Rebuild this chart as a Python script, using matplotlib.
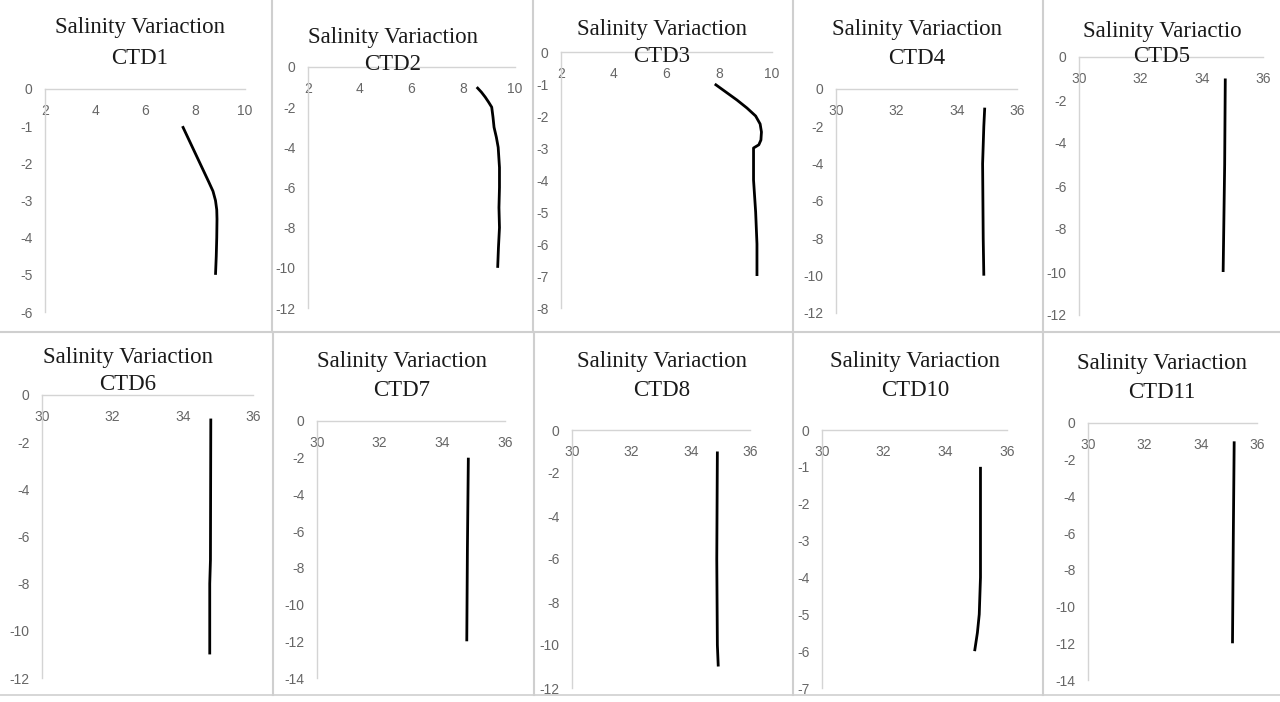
import matplotlib
matplotlib.use("Agg")
import matplotlib.pyplot as plt
from matplotlib.lines import Line2D
import numpy as np

plt.rcParams["axes.unicode_minus"] = False

W, H = 1280, 702

# salinity profiles (depth in m, negative down)
depth_ctd1 = [-1, -1.5, -2, -2.5, -2.75, -3, -3.25, -3.5, -4, -4.5, -5]
sal_ctd1 = [7.5, 7.85, 8.2, 8.55, 8.72, 8.82, 8.87, 8.88, 8.87, 8.85, 8.82]

depth_ctd2 = [-1, -1.25, -1.5, -1.75, -2, -2.5, -3, -3.5, -4, -5, -6, -7, -8, -9, -10]
sal_ctd2 = [8.52, 8.7, 8.85, 8.98, 9.1, 9.15, 9.19, 9.28, 9.35, 9.4, 9.4, 9.38, 9.4, 9.36, 9.33]

depth_ctd3 = [-1, -1.25, -1.5, -1.75, -2, -2.25, -2.5, -2.75, -2.9, -3, -4, -5, -6, -7]
sal_ctd3 = [7.83, 8.25, 8.67, 9.05, 9.38, 9.55, 9.6, 9.58, 9.5, 9.3, 9.3, 9.38, 9.43, 9.43]

depth_ctd4 = [-1, -2, -4, -6, -8, -10]
sal_ctd4 = [34.93, 34.9, 34.86, 34.87, 34.88, 34.9]

depth_ctd5 = [-1, -5, -10]
sal_ctd5 = [34.77, 34.75, 34.7]

depth_ctd6 = [-1, -7, -8, -11]
sal_ctd6 = [34.8, 34.79, 34.77, 34.77]

depth_ctd7 = [-2, -7, -12]
sal_ctd7 = [34.83, 34.8, 34.78]

depth_ctd8 = [-1, -6, -10, -11]
sal_ctd8 = [34.9, 34.88, 34.9, 34.93]

depth_ctd10 = [-1, -4, -5, -5.5, -6]
sal_ctd10 = [35.14, 35.14, 35.1, 35.04, 34.95]

depth_ctd11 = [-1, -6, -12]
sal_ctd11 = [35.19, 35.16, 35.13]

titles = ["CTD1", "CTD2", "CTD3", "CTD4", "CTD5",
          "CTD6", "CTD7", "CTD8", "CTD10", "CTD11"]
profiles = [(depth_ctd1, sal_ctd1), (depth_ctd2, sal_ctd2), (depth_ctd3, sal_ctd3),
            (depth_ctd4, sal_ctd4), (depth_ctd5, sal_ctd5), (depth_ctd6, sal_ctd6),
            (depth_ctd7, sal_ctd7), (depth_ctd8, sal_ctd8), (depth_ctd10, sal_ctd10),
            (depth_ctd11, sal_ctd11)]
xlims = [(2, 10)] * 3 + [(30, 36)] * 7
ymins = [-6, -12, -8, -12, -12, -12, -14, -12, -7, -14]

# layout in pixels: axes box (left, right, top, bottom), title centre and line heights
boxes = [(45, 245, 89, 312), (308, 515, 67, 308), (561, 772, 52, 308),
         (836, 1017, 89, 313), (1079, 1263, 57, 315),
         (42, 253, 395, 678), (317, 505, 421, 678), (572, 750, 430, 688),
         (822, 1007, 430, 688), (1088, 1257, 423, 680)]
title_pos = [(140, 27, 58), (393, 37, 65), (662, 29, 57), (917, 29, 59), (1162, 31, 57),
             (128, 357, 385), (402, 362, 390), (662, 362, 390), (915, 362, 390),
             (1162, 363, 392)]

fig = plt.figure(figsize=(W / 100, H / 100), dpi=100)
fig.patch.set_facecolor("white")

grid_col = "#d4d4d4"
tick_col = "#666666"

for i, (name, (d, s)) in enumerate(zip(titles, profiles)):
    l, r, t, b = boxes[i]
    ax = fig.add_axes([l / W, 1 - b / H, (r - l) / W, (b - t) / H])
    ax.plot(s, d, color="black", lw=2, solid_capstyle="butt", solid_joinstyle="round")
    ax.set_xlim(*xlims[i])
    ax.set_ylim(ymins[i], 0)
    x0, x1 = xlims[i]
    ax.set_xticks(np.arange(x0, x1 + 1, 2))
    ystep = 1 if ymins[i] > -10 else 2
    ax.set_yticks(np.arange(ymins[i], 1, ystep))
    ax.spines["bottom"].set_position(("data", 0))
    ax.spines["top"].set_visible(False)
    ax.spines["right"].set_visible(False)
    for sp in ("bottom", "left"):
        ax.spines[sp].set_color(grid_col)
        ax.spines[sp].set_linewidth(1.0)
    ax.tick_params(axis="x", length=0, pad=11, labelsize=10, labelcolor=tick_col)
    ax.tick_params(axis="y", length=0, pad=9, labelsize=10, labelcolor=tick_col)
    for lab in ax.get_xticklabels() + ax.get_yticklabels():
        lab.set_family("Liberation Sans")
    ax.patch.set_alpha(0)

    cx, y1, y2 = title_pos[i]
    head = "Salinity Variactio" if name == "CTD5" else "Salinity Variaction"
    fig.text(cx / W, 1 - y1 / H, head, ha="center", va="center",
             family="Liberation Serif", fontsize=16.5, color="#1a1a1a")
    fig.text(cx / W, 1 - y2 / H, name, ha="center", va="center",
             family="Liberation Serif", fontsize=16.5, color="#1a1a1a")

# panel borders of the pasted charts
border = "#cfcfcf"
for x in (272, 533, 793, 1043):
    fig.add_artist(Line2D([x / W, x / W], [1 - 0 / H, 1 - 332 / H], color=border, lw=1.5))
for x in (273, 534, 793, 1043):
    fig.add_artist(Line2D([x / W, x / W], [1 - 332 / H, 1 - 695 / H], color=border, lw=1.5))
fig.add_artist(Line2D([0, 1], [1 - 332 / H, 1 - 332 / H], color=border, lw=1.5))
fig.add_artist(Line2D([0, 1], [1 - 695 / H, 1 - 695 / H], color=border, lw=1.2))

fig.savefig("out.png", dpi=100, facecolor="white")
